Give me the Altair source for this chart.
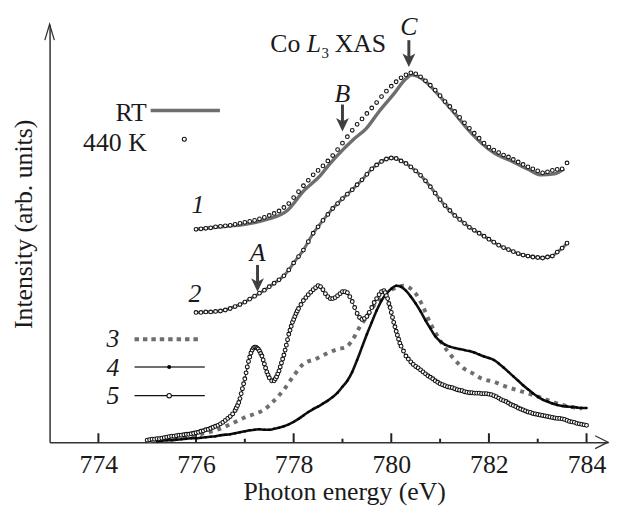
import altair as alt
import pandas as pd

FONT = "Liberation Serif"
INK = "#1a1a1a"
GRAY = "#6e6e6e"
DARK = "#404040"

# ---------------- data (energy in eV, intensity in arb. units) ----------------
# curve 1 and 2 sampled every 0.1 eV from 776.0 to 783.6
e12 = [round(776.0 + 0.1 * i, 1) for i in range(77)]
c1_440K = [215, 215.5, 216, 216.5, 217.5, 218, 218.5, 219, 220, 221,
           222, 223, 224, 225.5, 227, 229, 231, 233.5, 237, 241,
           247, 253, 259, 264.5, 270, 274.5, 279, 284, 289.5, 295.5,
           302, 308.5, 315, 321, 326.5, 332, 337.5, 343, 349, 354.5,
           359.5, 364, 368, 371, 373, 372, 369, 365, 360.5, 355.5,
           350, 344, 339, 334, 328, 322.5, 317, 312, 307, 302,
           298, 295, 292.5, 290, 288, 285.5, 283, 280.5, 278, 276,
           274, 272, 273, 274.5, 275.5, 276, 282]
rt1_e = [776.0, 776.5, 777.0, 777.45, 777.87, 778.21, 778.54, 778.74, 779.02,
         779.23, 779.49, 779.75, 780.04, 780.3, 780.42, 780.6, 780.91, 781.3,
         781.57, 781.85, 782.11, 782.46, 782.79, 783.07, 783.34, 783.54]
rt1_v = [215, 217.5, 220, 225, 234, 254, 269, 281, 296,
         306, 317, 334, 351, 367, 371, 368, 354, 332,
         316, 302, 292, 284, 276, 270, 271, 276]
c2 = [131, 131, 131.5, 131.5, 132, 132.5, 133.5, 135, 137, 139,
      141.5, 144.5, 147.5, 150.5, 153.5, 157, 160.5, 164, 168, 174,
      181, 187.5, 194, 202.5, 211, 217.5, 224, 230, 236, 241,
      246, 250.5, 255, 260, 265, 270.5, 276, 280, 283.5, 286,
      287, 286.5, 284, 281.5, 278, 274, 269.5, 264, 258, 251.5,
      245, 239, 234, 229, 225, 221, 217, 214, 211, 208,
      205, 202, 199, 196.5, 194.5, 192.5, 190.5, 189, 188, 187,
      186.5, 186, 187, 188, 192, 196, 201]

# curve 3 (dotted)
c3_e = [775.0, 775.4, 775.8, 776.0, 776.2, 776.4, 776.7, 777.0, 777.2, 777.4,
        777.6, 777.8, 778.0, 778.2, 778.45, 778.7, 778.9, 779.07, 779.2, 779.35,
        779.5, 779.63, 779.8, 779.9, 780.1, 780.25, 780.4, 780.5, 780.65, 780.8,
        780.9, 781.05, 781.25, 781.5, 781.65, 781.86, 782.1, 782.3, 782.75, 783.0,
        783.2, 783.47, 783.7, 783.9]
c3_v = [1, 3, 5, 7, 9.5, 12, 18, 25, 28.5, 33,
        42, 53, 67, 79, 84, 90, 94, 96, 103, 116,
        127, 137, 146, 151, 156, 158, 155, 150, 137, 120,
        111, 99, 86, 74, 70, 64, 61, 57, 50, 46,
        42.5, 38, 35.5, 34]

# curve 4 (black, filled dots) 775.2 .. 784.0 every 0.1 eV
e4 = [round(775.2 + 0.1 * i, 1) for i in range(89)]
c4 = [1, 1.5, 2, 2, 2.5, 3, 3.5, 4,
      4, 4.5, 5, 5.5, 6, 7, 7.5, 8, 9, 10,
      11, 12, 12.5, 13, 12.5, 12.5, 13.5, 14.5, 16, 18,
      20.5, 23.5, 27, 30.5, 33.5, 36, 39, 42, 45.5, 50,
      56, 62, 71, 83, 96, 109, 121, 133, 143, 150,
      155, 158, 157, 153, 147, 140, 132, 123, 115, 107,
      102, 98.5, 96.5, 95, 94, 93, 92, 90.5, 88.5, 86.5,
      85, 83, 79.5, 75.5, 71, 66.5, 62, 57.5, 53.5, 49.5,
      46, 43, 41, 39, 37.5, 36.5, 36, 35.5, 35, 34.5,
      34.5]

# curve 5 (open circles): (energy, intensity) pairs, denser where the curve is steep
curve5 = [
    (775.00, 2), (775.05, 2.5), (775.10, 3), (775.15, 3), (775.20, 3.5), (775.25, 3.5),
    (775.30, 4), (775.35, 4.5), (775.40, 5), (775.45, 5.5), (775.50, 6), (775.55, 6),
    (775.60, 6.5), (775.65, 7), (775.70, 7), (775.75, 7.5), (775.80, 8), (775.85, 8),
    (775.90, 8.5), (775.95, 9), (776.00, 9.5), (776.05, 10), (776.10, 11), (776.15, 11.5),
    (776.20, 12.5), (776.25, 13), (776.30, 14), (776.35, 15), (776.40, 16), (776.45, 17),
    (776.50, 18.5), (776.55, 20), (776.60, 22), (776.65, 24), (776.70, 26), (776.75, 28.5),
    (776.80, 32), (776.825, 34.5), (776.85, 37), (776.875, 40), (776.90, 44), (776.925, 49),
    (776.95, 54), (776.975, 59), (777.00, 64), (777.025, 70), (777.05, 76), (777.075, 81.5),
    (777.10, 86), (777.125, 90), (777.15, 93), (777.175, 95), (777.20, 96), (777.225, 96),
    (777.25, 95), (777.275, 94), (777.30, 92), (777.325, 89.5), (777.35, 87), (777.375, 83),
    (777.40, 79), (777.425, 75), (777.45, 71), (777.475, 68), (777.50, 65), (777.55, 62),
    (777.60, 62), (777.625, 64), (777.65, 66), (777.675, 69), (777.70, 72), (777.725, 76),
    (777.75, 80), (777.775, 84), (777.80, 88), (777.825, 93), (777.85, 98), (777.875, 103.5),
    (777.90, 109), (777.925, 113), (777.95, 117), (777.975, 121), (778.00, 124),
    (778.025, 127), (778.05, 130), (778.075, 132.5), (778.10, 135), (778.15, 139),
    (778.20, 143), (778.25, 146), (778.30, 149), (778.35, 151.5), (778.40, 154),
    (778.45, 156), (778.50, 158), (778.55, 157), (778.60, 154), (778.65, 150), (778.70, 147),
    (778.75, 145), (778.80, 145), (778.85, 146), (778.90, 148), (778.95, 150), (779.00, 152),
    (779.05, 152), (779.10, 151), (779.15, 147), (779.20, 142), (779.25, 136), (779.30, 130),
    (779.35, 126), (779.40, 124), (779.45, 125), (779.50, 127), (779.55, 131), (779.60, 136),
    (779.65, 141), (779.70, 145), (779.75, 149), (779.80, 152), (779.85, 153), (779.875, 151),
    (779.90, 148), (779.925, 145), (779.95, 140), (779.975, 136), (780.00, 131),
    (780.025, 126), (780.05, 121), (780.075, 116.5), (780.10, 112), (780.125, 108),
    (780.15, 104), (780.175, 100), (780.20, 97), (780.25, 92), (780.30, 87), (780.35, 84),
    (780.40, 81), (780.45, 78.5), (780.50, 76.5), (780.55, 75), (780.60, 73), (780.65, 71),
    (780.70, 69), (780.75, 67), (780.80, 65.5), (780.85, 64), (780.90, 62), (780.95, 60.5),
    (781.00, 59), (781.05, 58), (781.10, 57), (781.15, 56), (781.20, 55.5), (781.25, 55),
    (781.30, 54), (781.35, 53), (781.40, 52.5), (781.45, 52), (781.50, 51), (781.55, 50.5),
    (781.60, 50), (781.65, 50), (781.70, 49.5), (781.75, 49.5), (781.80, 49.5), (781.85, 49),
    (781.90, 49), (781.95, 49), (782.00, 48.5), (782.05, 48), (782.10, 47), (782.15, 46),
    (782.20, 44.5), (782.25, 43), (782.30, 42), (782.35, 41), (782.40, 39.5), (782.45, 38),
    (782.50, 37), (782.55, 36), (782.60, 34.5), (782.65, 33.5), (782.70, 32.5), (782.75, 31.5),
    (782.80, 30.5), (782.85, 30), (782.90, 29), (782.95, 28.5), (783.00, 28), (783.05, 27.5),
    (783.10, 27), (783.15, 26.5), (783.20, 26), (783.25, 25.5), (783.30, 25), (783.35, 24.5),
    (783.40, 24), (783.45, 24), (783.50, 23.5), (783.55, 23), (783.60, 22), (783.65, 21),
    (783.70, 20.5), (783.75, 20), (783.80, 19), (783.85, 18.5), (783.90, 18), (783.95, 17.5),
    (784.00, 17),
]

ticks_major = [774, 776, 778, 780, 782, 784]
ticks_minor = [775, 777, 779, 781, 783]

# annotation texts
curve_labels = ["1", "2", "3", "4", "5"]
curve_label_e = [776.04, 775.98, 774.30, 774.30, 774.30]
curve_label_v = [231, 142, 96, 67, 39]
peak_labels = ["A", "B", "C"]
peak_e = [777.26, 779.0, 780.36]
peak_text_v = [183, 344, 411]
arrow_top_v = [179, 341, 406]
arrow_head_v = [159, 321, 386]

# ---------------- scales / axes ----------------
xscale = alt.Scale(domain=[773, 784.44], nice=False, zero=False)
yscale = alt.Scale(domain=[0, 422], nice=False, zero=False)
xaxis = alt.Axis(values=ticks_major, format="d", title="Photon energy (eV)",
                 ticks=False, tickSize=0, grid=False, domainColor="#333", domainWidth=1.5,
                 labelFont=FONT, labelFontSize=26, labelColor=INK, labelPadding=31,
                 labelBaseline="alphabetic", labelFlush=False, labelOverlap=False,
                 titleFont=FONT, titleFontSize=26, titleFontWeight="normal", titleColor=INK,
                 titleX=297.5, titleY=58, titleBaseline="alphabetic", titleAlign="center")
yaxis = alt.Axis(title="Intensity (arb. units)", labels=False, ticks=False, grid=False,
                 domainColor="#333", domainWidth=1.5,
                 titleFont=FONT, titleFontSize=26, titleFontWeight="normal", titleColor=INK,
                 titleX=-18, titleY=201.5, titleBaseline="alphabetic", titleAlign="center",
                 titleAngle=270)


def X(f="e"):
    return alt.X(f + ":Q", scale=xscale, axis=xaxis)


def Y(f="v"):
    return alt.Y(f + ":Q", scale=yscale, axis=yaxis)


def df(e, v):
    return pd.DataFrame({"e": e, "v": v})


def open_circles(data, size):
    return alt.Chart(data).mark_point(shape="circle", fill="white", stroke="#111",
                                      strokeWidth=1.1, size=size, opacity=1,
                                      fillOpacity=1).encode(x=X(), y=Y())


layers = []

# ticks (inward)
layers.append(alt.Chart(df(ticks_major, [0] * len(ticks_major))).mark_rule(
    color="#222", strokeWidth=2).encode(x=X(), y=Y(), y2=alt.value(413)))
layers.append(alt.Chart(df(ticks_minor, [0] * len(ticks_minor))).mark_rule(
    color="#222", strokeWidth=2).encode(x=X(), y=Y(), y2=alt.value(418.5)))

# axis arrowheads
layers.append(alt.Chart(df([784.44], [0])).mark_point(
    shape="M-2,-1L0,0L-2,1", filled=False, color="#333", strokeWidth=1.3,
    size=169, opacity=1).encode(x=X(), y=Y()))
layers.append(alt.Chart(df([773], [422])).mark_point(
    shape="M-0.6,2L0,0L0.6,2", filled=False, color="#333", strokeWidth=1.3,
    size=256, opacity=1).encode(x=X(), y=Y()))

# curve 3 dotted gray
layers.append(alt.Chart(df(c3_e, c3_v)).mark_line(
    color=GRAY, strokeWidth=4, strokeDash=[4, 5], interpolate="monotone").encode(x=X(), y=Y()))
# curve 4 black with dots
d4 = df(e4, c4)
layers.append(alt.Chart(d4).mark_line(color="#111", strokeWidth=2.6,
                                      interpolate="monotone").encode(x=X(), y=Y()))
layers.append(alt.Chart(d4).mark_point(shape="circle", filled=True, color="#000",
                                       size=6, opacity=1).encode(x=X(), y=Y()))
# curve 5 open circles
d5 = df([p[0] for p in curve5], [p[1] for p in curve5])
layers.append(alt.Chart(d5).mark_line(color="#111", strokeWidth=1,
                                      interpolate="monotone").encode(x=X(), y=Y()))
layers.append(open_circles(d5, 15))
# curve 2
d2 = df(e12, c2)
layers.append(alt.Chart(d2).mark_line(color=GRAY, strokeWidth=3,
                                      interpolate="monotone").encode(x=X(), y=Y()))
layers.append(open_circles(d2, 14))
# curve 1: RT line + 440 K circles
layers.append(alt.Chart(df(rt1_e, rt1_v)).mark_line(color=GRAY, strokeWidth=3.5,
                                                   interpolate="monotone").encode(x=X(), y=Y()))
layers.append(open_circles(df(e12, c1_440K), 14))

# ---------------- legends ----------------
# RT / 440 K
layers.append(alt.Chart(pd.DataFrame({"e": [775.07], "e2": [776.49], "v": [335]})).mark_rule(
    color=GRAY, strokeWidth=3.5).encode(x=X(), x2=alt.X2("e2"), y=Y()))
layers.append(alt.Chart(pd.DataFrame({"e": [774.99, 774.99], "v": [324, 294],
                                      "t": ["RT", "440 K"]})).mark_text(
    font=FONT, fontSize=26, align="right", baseline="alphabetic", color=INK).encode(
    x=X(), y=Y(), text="t:N"))
layers.append(open_circles(df([775.76], [306]), 16))
# 3
layers.append(alt.Chart(pd.DataFrame({"e": [774.74], "e2": [776.12], "v": [104]})).mark_rule(
    color=GRAY, strokeWidth=4, strokeDash=[4.5, 4]).encode(x=X(), x2=alt.X2("e2"), y=Y()))
# 4
layers.append(alt.Chart(pd.DataFrame({"e": [774.74], "e2": [776.18], "v": [76]})).mark_rule(
    color=GRAY, strokeWidth=2).encode(x=X(), x2=alt.X2("e2"), y=Y()))
layers.append(alt.Chart(df([775.45], [76])).mark_point(
    shape="circle", filled=True, color="#000", size=16, opacity=1).encode(x=X(), y=Y()))
# 5
layers.append(alt.Chart(pd.DataFrame({"e": [774.74], "e2": [776.18], "v": [47]})).mark_rule(
    color="#111", strokeWidth=1.2).encode(x=X(), x2=alt.X2("e2"), y=Y()))
layers.append(open_circles(df([775.45], [47]), 20))

# curve number labels
layers.append(alt.Chart(pd.DataFrame({"e": curve_label_e, "v": curve_label_v,
                                      "t": curve_labels})).mark_text(
    font=FONT, fontSize=26, fontStyle="italic", align="center", baseline="alphabetic",
    color=INK).encode(x=X(), y=Y(), text="t:N"))

# peak arrows A, B, C
layers.append(alt.Chart(pd.DataFrame({"e": peak_e, "v": arrow_top_v, "v2": arrow_head_v})).mark_rule(
    color=DARK, strokeWidth=3).encode(x=X(), y=Y(), y2=alt.Y2("v2")))
layers.append(alt.Chart(df(peak_e, arrow_head_v)).mark_point(
    shape="M0,1.1L-1,-1L0,-0.45L1,-1Z", filled=True, color=DARK, size=169,
    opacity=1).encode(x=X(), y=Y()))
layers.append(alt.Chart(pd.DataFrame({"e": peak_e, "v": peak_text_v, "t": peak_labels})).mark_text(
    font=FONT, fontSize=26, fontStyle="italic", align="center", baseline="alphabetic",
    color=INK).encode(x=X(), y=Y(), text="t:N"))

# title "Co L3 XAS"
layers.append(alt.Chart(pd.DataFrame({"e": [777.52, 778.84], "v": [394, 394],
                                      "t": ["Co", "XAS"]})).mark_text(
    font=FONT, fontSize=26, align="left", baseline="alphabetic", color=INK).encode(
    x=X(), y=Y(), text="t:N"))
layers.append(alt.Chart(pd.DataFrame({"e": [778.27], "v": [394], "t": ["L"]})).mark_text(
    font=FONT, fontSize=26, fontStyle="italic", align="left", baseline="alphabetic",
    color=INK).encode(x=X(), y=Y(), text="t:N"))
layers.append(alt.Chart(pd.DataFrame({"e": [778.57], "v": [388], "t": ["3"]})).mark_text(
    font=FONT, fontSize=15, align="left", baseline="alphabetic", color=INK).encode(
    x=X(), y=Y(), text="t:N"))

chart = alt.layer(*layers).properties(
    width=564, height=422,
    padding={"left": 42, "top": 14, "right": 2, "bottom": 66},
    autosize=alt.AutoSizeParams(type="none"),
    background="white",
).configure_view(stroke=None)

chart.save("out.html", embed_options={"renderer": "svg", "actions": False})
